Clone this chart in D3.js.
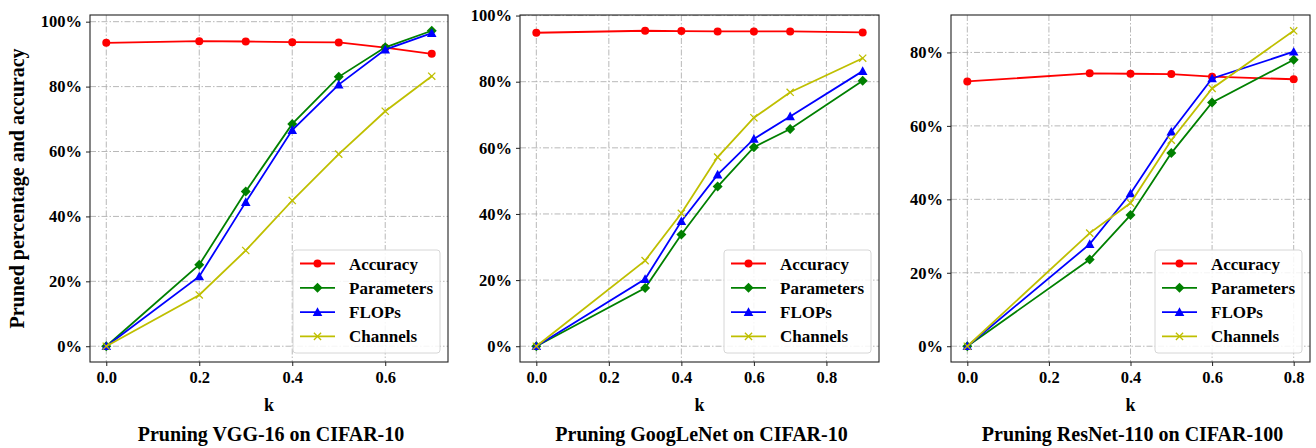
<!DOCTYPE html>
<html>
<head>
<meta charset="utf-8">
<script src="https://cdn.jsdelivr.net/npm/d3@7"></script>
<style>
body { margin: 0; background: #fff; }
svg { display: block; }
text { font-family: "Liberation Serif", "Times New Roman", serif; font-weight: bold; }
</style>
</head>
<body>
<div class="chart"></div>
<script>
// series names & colors
var seriesNames = ["Accuracy", "Parameters", "FLOPs", "Channels"];
var seriesColors = ["#ff0000", "#008000", "#0000ff", "#bfbf00"];
var seriesMarkers = ["circle", "diamond", "triangle", "x"];

// VGG-16 on CIFAR-10
var vggK = [0, 0.2, 0.3, 0.4, 0.5, 0.6, 0.7];
var vggAccuracy = [93.5, 94.0, 93.9, 93.7, 93.6, 92.0, 90.1];
var vggParams = [0, 25.1, 47.7, 68.5, 83.0, 92.1, 97.2];
var vggFlops = [0, 21.5, 44.4, 66.6, 80.6, 91.4, 96.5];
var vggChannels = [0, 15.8, 29.5, 44.9, 59.2, 72.4, 83.2];

// GoogLeNet on CIFAR-10
var gnK = [0, 0.3, 0.4, 0.5, 0.6, 0.7, 0.9];
var gnAccuracy = [94.8, 95.4, 95.3, 95.2, 95.2, 95.2, 94.9];
var gnParams = [0, 17.6, 33.8, 48.3, 60.2, 65.7, 80.3];
var gnFlops = [0, 20.3, 37.8, 51.9, 62.7, 69.5, 83.2];
var gnChannels = [0, 25.9, 40.2, 57.2, 69.1, 76.8, 87.1];

// ResNet-110 on CIFAR-100
var rnK = [0, 0.3, 0.4, 0.5, 0.6, 0.8];
var rnAccuracy = [72.1, 74.3, 74.2, 74.1, 73.4, 72.7];
var rnParams = [0, 23.6, 35.7, 52.6, 66.4, 78.0];
var rnFlops = [0, 27.8, 41.6, 58.4, 72.9, 80.2];
var rnChannels = [0, 30.8, 39.0, 56.1, 70.2, 85.9];

var vggXTicks = [0, 0.2, 0.4, 0.6];
var gnXTicks = [0, 0.2, 0.4, 0.6, 0.8];
var rnXTicks = [0, 0.2, 0.4, 0.6, 0.8];
var yTicks100 = [0, 20, 40, 60, 80, 100];
var yTicks80 = [0, 20, 40, 60, 80];

var panels = [
    {title: "Pruning VGG-16 on CIFAR-10", k: vggK, series: [vggAccuracy, vggParams, vggFlops, vggChannels],
     xTicks: vggXTicks, yTicks: yTicks100, left: 90, right: 448, ylabel: true},
    {title: "Pruning GoogLeNet on CIFAR-10", k: gnK, series: [gnAccuracy, gnParams, gnFlops, gnChannels],
     xTicks: gnXTicks, yTicks: yTicks100, left: 520, right: 879, ylabel: false},
    {title: "Pruning ResNet-110 on CIFAR-100", k: rnK, series: [rnAccuracy, rnParams, rnFlops, rnChannels],
     xTicks: rnXTicks, yTicks: yTicks80, left: 951, right: 1310, ylabel: false}
];

var W = 1316, H = 448;
var plotTop = 15, plotBottom = 362;

var svg = d3.select(".chart").append("svg")
    .attr("width", W)
    .attr("height", H);

function drawMarker(g, type, color, x, y){
    if(type == "circle"){
        g.append("circle").attr("cx", x).attr("cy", y).attr("r", 4).attr("fill", color);
    }else if(type == "diamond"){
        var s = 5;
        g.append("path").attr("d", "M" + x + "," + (y - s) + "L" + (x + s) + "," + y + "L" + x + "," + (y + s) + "L" + (x - s) + "," + y + "Z")
            .attr("fill", color);
    }else if(type == "triangle"){
        var t = 4.8;
        g.append("path").attr("d", "M" + x + "," + (y - t) + "L" + (x + t) + "," + (y + t * 0.8) + "L" + (x - t) + "," + (y + t * 0.8) + "Z")
            .attr("fill", color);
    }else{
        var c = 3.6;
        g.append("path").attr("d", "M" + (x - c) + "," + (y - c) + "L" + (x + c) + "," + (y + c) + "M" + (x - c) + "," + (y + c) + "L" + (x + c) + "," + (y - c))
            .attr("stroke", color).attr("stroke-width", 1.3).attr("fill", "none");
    }
}

panels.forEach(function(p){
    var xMax = d3.max(p.k);
    var allY = [].concat.apply([], p.series);
    var yMin = d3.min(allY), yMax = d3.max(allY);
    var xPad = xMax * 0.05, yPad = (yMax - yMin) * 0.05;

    var xScale = d3.scaleLinear()
        .domain([-xPad, xMax + xPad])
        .range([p.left, p.right]);
    var yScale = d3.scaleLinear()
        .domain([yMin - yPad, yMax + yPad])
        .range([plotBottom, plotTop]);

    var g = svg.append("g");

    // grid
    g.selectAll(".gx").data(p.xTicks).enter().append("line")
        .attr("x1", function(d){ return xScale(d); })
        .attr("x2", function(d){ return xScale(d); })
        .attr("y1", plotTop).attr("y2", plotBottom)
        .attr("stroke", "#b0b0b0").attr("stroke-width", 0.9)
        .attr("stroke-dasharray", "6,2,1.5,2");
    g.selectAll(".gy").data(p.yTicks).enter().append("line")
        .attr("y1", function(d){ return yScale(d); })
        .attr("y2", function(d){ return yScale(d); })
        .attr("x1", p.left).attr("x2", p.right)
        .attr("stroke", "#b0b0b0").attr("stroke-width", 0.9)
        .attr("stroke-dasharray", "6,2,1.5,2");

    // axes
    var xAxis = d3.axisBottom(xScale)
        .tickValues(p.xTicks)
        .tickFormat(d3.format(".1f"))
        .tickSizeInner(4).tickSizeOuter(0).tickPadding(5);
    var yAxis = d3.axisLeft(yScale)
        .tickValues(p.yTicks)
        .tickFormat(function(d){ return d + "%"; })
        .tickSizeInner(4).tickSizeOuter(0).tickPadding(4);

    var gx = g.append("g")
        .attr("transform", "translate(0," + plotBottom + ")")
        .call(xAxis);
    var gy = g.append("g")
        .attr("transform", "translate(" + p.left + ",0)")
        .call(yAxis);
    [gx, gy].forEach(function(a){
        a.select(".domain").remove();
        a.selectAll("line").attr("stroke", "#222").attr("stroke-width", 1);
        a.selectAll("text").style("font-size", "16.5px").attr("fill", "#000")
            .style("font-family", "'Liberation Serif', serif").style("font-weight", "bold");
    });

    // lines + markers
    p.series.forEach(function(vals, si){
        var pts = p.k.map(function(k, i){ return [k, vals[i]]; });
        var line = d3.line()
            .x(function(d){ return xScale(d[0]); })
            .y(function(d){ return yScale(d[1]); });
        g.append("path")
            .datum(pts)
            .attr("d", line)
            .attr("fill", "none")
            .attr("stroke", seriesColors[si])
            .attr("stroke-width", 1.8);
        pts.forEach(function(d){
            drawMarker(g, seriesMarkers[si], seriesColors[si], xScale(d[0]), yScale(d[1]));
        });
    });

    // frame
    g.append("rect")
        .attr("x", p.left).attr("y", plotTop)
        .attr("width", p.right - p.left).attr("height", plotBottom - plotTop)
        .attr("fill", "none").attr("stroke", "#222").attr("stroke-width", 1.1);

    // legend
    var lw = 147, lh = 103;
    var lx = p.right - 8 - lw, ly = plotBottom - 9 - lh;
    var leg = g.append("g").attr("transform", "translate(" + lx + "," + ly + ")");
    leg.append("rect")
        .attr("width", lw).attr("height", lh)
        .attr("rx", 3).attr("ry", 3)
        .attr("fill", "#fff").attr("fill-opacity", 0.85)
        .attr("stroke", "#d6d6d6").attr("stroke-width", 1);
    seriesNames.forEach(function(name, si){
        var yy = 13.5 + si * 24.3;
        leg.append("line")
            .attr("x1", 7).attr("x2", 42).attr("y1", yy).attr("y2", yy)
            .attr("stroke", seriesColors[si]).attr("stroke-width", 1.8);
        drawMarker(leg, seriesMarkers[si], seriesColors[si], 24.5, yy);
        leg.append("text")
            .attr("x", 56).attr("y", yy + 6)
            .style("font-size", "17px")
            .text(name);
    });

    // x label & title
    var cx = (p.left + p.right) / 2;
    g.append("text")
        .attr("x", cx).attr("y", 411)
        .attr("text-anchor", "middle")
        .style("font-size", "18px")
        .text("k");
    g.append("text")
        .attr("x", cx + 2).attr("y", 441)
        .attr("text-anchor", "middle")
        .style("font-size", "20px")
        .text(p.title);

    if(p.ylabel){
        g.append("text")
            .attr("transform", "translate(24," + ((plotTop + plotBottom) / 2) + ") rotate(-90)")
            .attr("text-anchor", "middle")
            .style("font-size", "20px")
            .text("Pruned percentage and accuracy");
    }
});
</script>
</body>
</html>
